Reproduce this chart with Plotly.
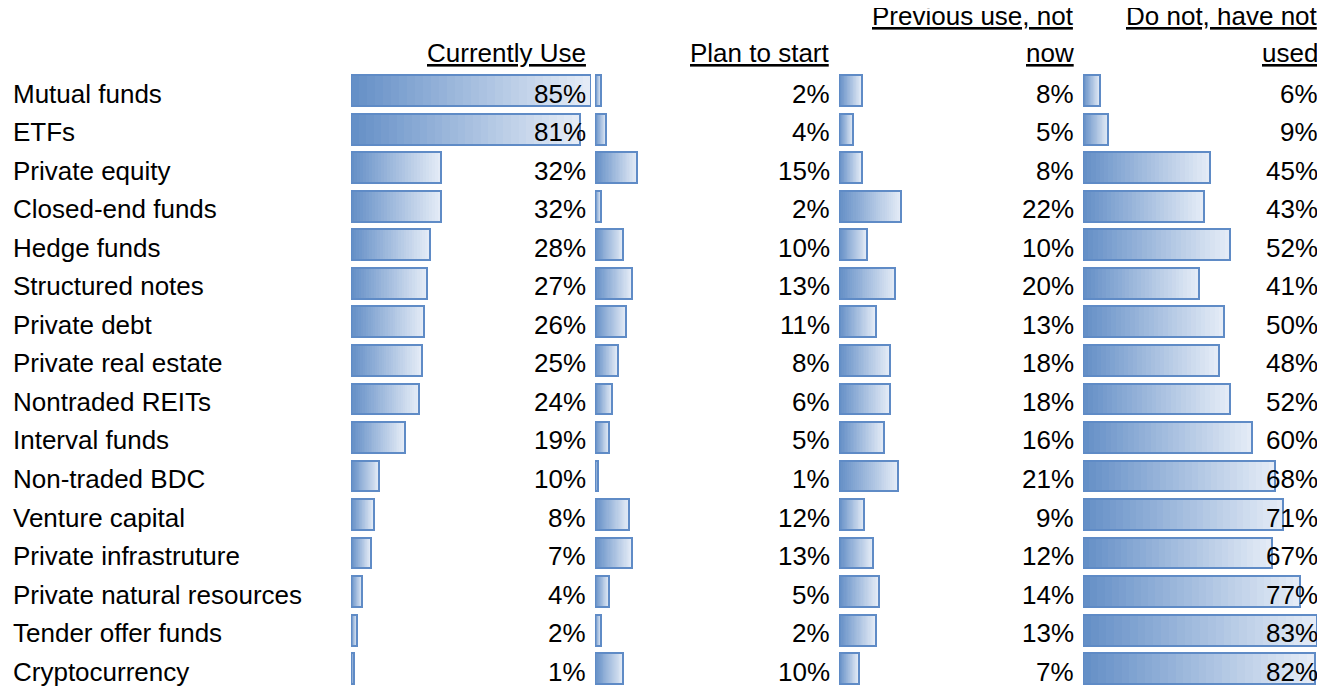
import plotly.graph_objects as go

# ---------------- data ----------------
categories = [
    "Mutual funds", "ETFs", "Private equity", "Closed-end funds", "Hedge funds",
    "Structured notes", "Private debt", "Private real estate", "Nontraded REITs",
    "Interval funds", "Non-traded BDC", "Venture capital", "Private infrastruture",
    "Private natural resources", "Tender offer funds", "Cryptocurrency",
]
currently_use = [85, 81, 32, 32, 28, 27, 26, 25, 24, 19, 10, 8, 7, 4, 2, 1]
plan_to_start = [2, 4, 15, 2, 10, 13, 11, 8, 6, 5, 1, 12, 13, 5, 2, 10]
previous_use_not_now = [8, 5, 8, 22, 10, 20, 13, 18, 18, 16, 21, 9, 12, 14, 13, 7]
do_not_have_not_used = [6, 9, 45, 43, 52, 41, 50, 48, 52, 60, 68, 71, 67, 77, 83, 82]
header_line1 = ["", "", "Previous use, not", "Do not, have not"]
header_line2 = ["Currently Use", "Plan to start", "now", "used"]

# ---------------- layout / style ----------------
PAGE_MARGIN = 8                      # browser body margin
W, H = 1325 - PAGE_MARGIN, 687 - PAGE_MARGIN
col_left = [351 - PAGE_MARGIN, 595 - PAGE_MARGIN, 839 - PAGE_MARGIN, 1083 - PAGE_MARGIN]
col_width = 240
text_right = 237
label_left = 11 - PAGE_MARGIN
row0_center = 90.7 - PAGE_MARGIN
row_step = 38.53
scale_max = max(max(currently_use), max(plan_to_start),
                max(previous_use_not_now), max(do_not_have_not_used))
dark = (99, 142, 198)
light = (230, 237, 247)
border = "#5F8BC6"
N_STEPS = 30
FONT = "Liberation Sans, Arial, sans-serif"

series = [currently_use, plan_to_start, previous_use_not_now, do_not_have_not_used]

fig = go.Figure()


def mix(t):
    return "rgb(%d,%d,%d)" % tuple(round(d + (l - d) * t) for d, l in zip(dark, light))


for c, vals in enumerate(series):
    xa = "x" if c == 0 else f"x{c + 1}"
    # gradient fill: overlaid bars, longest (lightest) first
    for k in range(N_STEPS):
        frac = (N_STEPS - k) / N_STEPS
        t = (N_STEPS - k - 0.5) / N_STEPS
        fig.add_trace(go.Bar(
            y=categories, x=[v * frac for v in vals], orientation="h",
            xaxis=xa, yaxis="y", width=0.8,
            marker=dict(color=mix(t), line=dict(width=0)),
            hoverinfo="skip", showlegend=False,
        ))
    # border
    fig.add_trace(go.Bar(
        y=categories, x=vals, orientation="h", xaxis=xa, yaxis="y", width=0.8,
        marker=dict(color="rgba(0,0,0,0)", line=dict(color=border, width=2)),
        hovertemplate="%{y}: %{x}%<extra></extra>", showlegend=False,
    ))

annotations = []
for cat in categories:
    annotations.append(dict(
        text=cat, xref="paper", x=label_left / W, yref="y", y=cat,
        xanchor="left", yanchor="middle", yshift=-3, showarrow=False,
        font=dict(family=FONT, size=26, color="black"),
    ))
for c, vals in enumerate(series):
    for cat, v in zip(categories, vals):
        annotations.append(dict(
            text=f"{v}%", xref="paper", x=(col_left[c] + text_right) / W,
            yref="y", y=cat, xanchor="right", yanchor="middle", yshift=-3,
            showarrow=False, font=dict(family=FONT, size=26, color="black"),
        ))
    for text, bottom_px in ((header_line2[c], 70), (header_line1[c], 33)):
        if not text:
            continue
        annotations.append(dict(
            text=f"<u>{text}</u>", xref="paper", x=(col_left[c] + text_right) / W,
            yref="paper", y=1 - (bottom_px - PAGE_MARGIN) / H,
            xanchor="right", yanchor="bottom", align="right", showarrow=False,
            font=dict(family=FONT, size=26, color="black"),
        ))

layout = dict(
    width=W, height=H, margin=dict(l=0, r=0, t=0, b=0),
    paper_bgcolor="white", plot_bgcolor="white",
    barmode="overlay", bargap=0,
    annotations=annotations,
    yaxis=dict(type="category", categoryarray=categories,
               range=[(H - row0_center) / row_step, -row0_center / row_step],
               visible=False, domain=[0, 1]),
)
for c in range(4):
    key = "xaxis" if c == 0 else f"xaxis{c + 1}"
    layout[key] = dict(
        domain=[col_left[c] / W, (col_left[c] + col_width) / W],
        range=[0, scale_max], visible=False, anchor="y", fixedrange=True,
    )
fig.update_layout(**layout)

fig.write_html("out.html")
